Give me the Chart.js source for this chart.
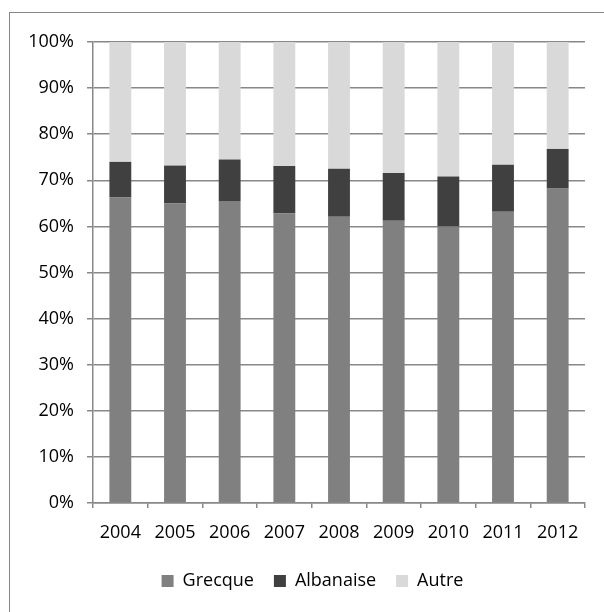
<!DOCTYPE html>
<html>
<head>
<meta charset="utf-8">
<script src="https://cdn.jsdelivr.net/npm/chart.js@4"></script>
<style>
  html, body { margin: 0; padding: 0; background: #fff; overflow: hidden; }
  #wrap { position: relative; width: 604px; height: 612px; }
  #frame { position: absolute; left: 9px; top: 12px; width: 800px; height: 800px; border: 1.5px solid #868686; }
  #chart { position: absolute; left: 0; top: 0; }
</style>
</head>
<body>
<div id="wrap">
  <div id="frame"></div>
  <canvas id="chart" width="604" height="612"></canvas>
</div>
<script>
// données (parts en %)
let years = ['2004', '2005', '2006', '2007', '2008', '2009', '2010', '2011', '2012'];
let grecque = [66.3, 65.0, 65.5, 62.8, 62.1, 61.2, 60.0, 63.2, 68.2];
let albanaise = [7.7, 8.2, 9.0, 10.3, 10.4, 10.4, 10.8, 10.2, 8.6];
let autre = [26.0, 26.8, 25.5, 26.9, 27.5, 28.4, 29.2, 26.6, 23.2];
let seriesNames = ['Grecque', 'Albanaise', 'Autre'];
let seriesColors = ['#808080', '#404040', '#d9d9d9'];

let fontFamily = '"Open Sans", "Noto Sans", sans-serif';
let gridColor = '#888888';

let datasets = [grecque, albanaise, autre].map((values, i) => ({
    label: seriesNames[i],
    data: values,
    backgroundColor: seriesColors[i],
    borderWidth: 0,
    barPercentage: 0.4,
    categoryPercentage: 1
}));

// décale la légende vers la droite (centrée sur le cadre, pas sur le canvas)
let shiftLegend = {
    id: 'shiftLegend',
    afterLayout(chart) {
        chart.legend.left += 20;
        chart.legend.right += 20;
    }
};

let ctx = document.getElementById('chart').getContext('2d');
let chart = new Chart(ctx, {
    type: 'bar',
    data: { labels: years, datasets: datasets },
    plugins: [shiftLegend],
    options: {
        responsive: false,
        animation: false,
        layout: { padding: { left: 0, right: 19, top: 42, bottom: 12 } },
        plugins: {
            tooltip: { enabled: false },
            legend: {
                position: 'bottom',
                labels: {
                    font: { family: fontFamily, size: 18 },
                    color: '#000',
                    boxWidth: 12,
                    boxHeight: 12,
                    padding: 20
                }
            }
        },
        scales: {
            x: {
                stacked: true,
                grid: {
                    offset: true,
                    drawOnChartArea: false,
                    drawTicks: true,
                    tickLength: 5,
                    color: gridColor,
                    lineWidth: 1.5
                },
                border: { color: gridColor, width: 1.5 },
                ticks: { font: { family: fontFamily, size: 18 }, color: '#000', padding: 14, maxRotation: 0 },
                afterFit: (scale) => { scale.height = 49; }
            },
            y: {
                stacked: true,
                min: 0,
                max: 100,
                grid: { color: gridColor, lineWidth: 1.5, tickLength: 6 },
                border: { color: gridColor, width: 1.5 },
                ticks: {
                    stepSize: 10,
                    font: { family: fontFamily, size: 18 },
                    color: '#000',
                    padding: 13,
                    callback: (v) => v + '%'
                },
                afterFit: (scale) => { scale.width = 93; }
            }
        }
    }
});
</script>
</body>
</html>
